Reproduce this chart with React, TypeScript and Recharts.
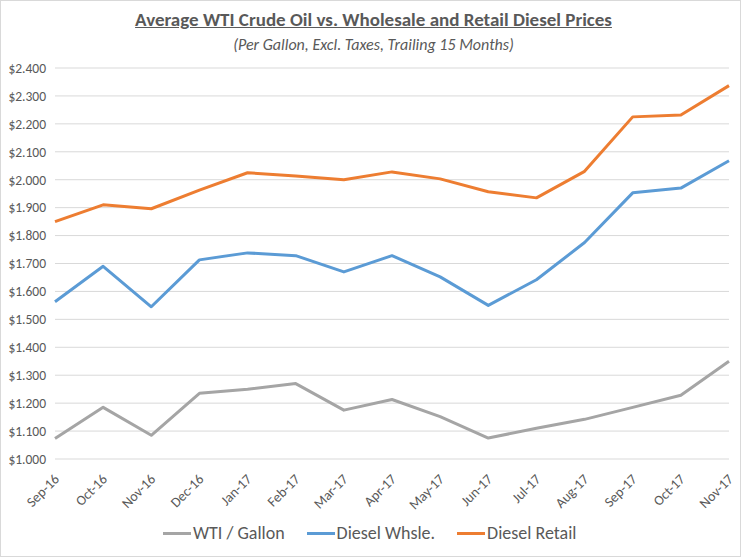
import { CartesianGrid, Line, LineChart, XAxis, YAxis } from 'recharts'

const months = ['Sep-16', 'Oct-16', 'Nov-16', 'Dec-16', 'Jan-17', 'Feb-17', 'Mar-17', 'Apr-17', 'May-17', 'Jun-17', 'Jul-17', 'Aug-17', 'Sep-17', 'Oct-17', 'Nov-17']
const wti = [1.073, 1.185, 1.085, 1.235, 1.25, 1.27, 1.175, 1.213, 1.152, 1.075, 1.11, 1.142, 1.185, 1.228, 1.35]
const whsle = [1.563, 1.69, 1.545, 1.713, 1.738, 1.728, 1.67, 1.728, 1.652, 1.55, 1.642, 1.775, 1.953, 1.97, 2.068]
const retail = [1.85, 1.91, 1.896, 1.963, 2.025, 2.013, 2.0, 2.028, 2.003, 1.957, 1.935, 2.03, 2.225, 2.232, 2.337]
const yTicks = [1.0, 1.1, 1.2, 1.3, 1.4, 1.5, 1.6, 1.7, 1.8, 1.9, 2.0, 2.1, 2.2, 2.3, 2.4]
const boundaries = months.map((_, i) => i).concat(months.length)

const series = [
  { key: 'wti', name: 'WTI / Gallon', color: '#A5A5A5' },
  { key: 'whsle', name: 'Diesel Whsle.', color: '#5B9BD5' },
  { key: 'retail', name: 'Diesel Retail', color: '#ED7D31' },
]

const data = months.map((m, i) => ({ month: m, wti: wti[i], whsle: whsle[i], retail: retail[i] }))

const font = "Calibri, Carlito, 'Liberation Sans Narrow', 'Open Sans', sans-serif"
const textColor = '#595959'

function MonthTick({ x, y, payload }: any) {
  const tx = x + 5
  const ty = y + 13
  return (
    <text x={tx} y={ty} transform={`rotate(-45 ${tx} ${ty})`} textAnchor="end" fontSize={14} fill={textColor} fontFamily={font}>
      {payload.value}
    </text>
  )
}

export default function App() {
  return (
    <div
      style={{
        position: 'absolute',
        left: 0,
        top: 0,
        width: 739,
        height: 555,
        border: '1px solid #d9d9d9',
        background: '#fff',
        fontFamily: font,
      }}
    >
      <div style={{ position: 'absolute', top: 7, width: 745, textAlign: 'center', color: textColor, fontSize: 19, fontWeight: 'bold', textDecoration: 'underline' }}>
        Average WTI Crude Oil vs. Wholesale and Retail Diesel Prices
      </div>
      <div style={{ position: 'absolute', top: 34, width: 745, textAlign: 'center', color: textColor, fontSize: 16, fontStyle: 'italic' }}>
        (Per Gallon, Excl. Taxes, Trailing 15 Months)
      </div>
      <div style={{ position: 'absolute', left: -1, top: -1 }}>
        <LineChart width={745} height={557} data={data} margin={{ top: 68, right: 16, left: 0, bottom: 28 }}>
          <CartesianGrid vertical={false} stroke="#d9d9d9" />
          <XAxis
            xAxisId="edges"
            type="number"
            dataKey={() => 0}
            domain={[0, months.length]}
            ticks={boundaries}
            height={0}
            stroke="#d9d9d9"
            tick={false}
            tickSize={5}
          />
          <XAxis xAxisId="cat" dataKey="month" interval={0} height={70} axisLine={false} tickLine={false} tick={<MonthTick />} />
          <YAxis
            domain={[1, 2.4]}
            ticks={yTicks}
            width={55}
            axisLine={false}
            tickLine={false}
            tickSize={0}
            tickMargin={9}
            tick={{ fill: textColor, fontSize: 13.5, fontFamily: font }}
            tickFormatter={(v: number) => `$${v.toFixed(3)}`}
          />
          {series.map((s) => (
            <Line
              key={s.key}
              xAxisId="cat"
              dataKey={s.key}
              name={s.name}
              stroke={s.color}
              strokeWidth={3}
              dot={false}
              strokeLinejoin="round"
              isAnimationActive={false}
            />
          ))}
        </LineChart>
      </div>
      <div style={{ position: 'absolute', top: 521, left: 162, display: 'flex', gap: 22, color: textColor, fontSize: 18 }}>
        {series.map((s) => (
          <div key={s.key} style={{ display: 'flex', alignItems: 'center' }}>
            <span style={{ display: 'inline-block', width: 28, height: 3, background: s.color, marginRight: 2 }} />
            <span>{s.name}</span>
          </div>
        ))}
      </div>
    </div>
  )
}
